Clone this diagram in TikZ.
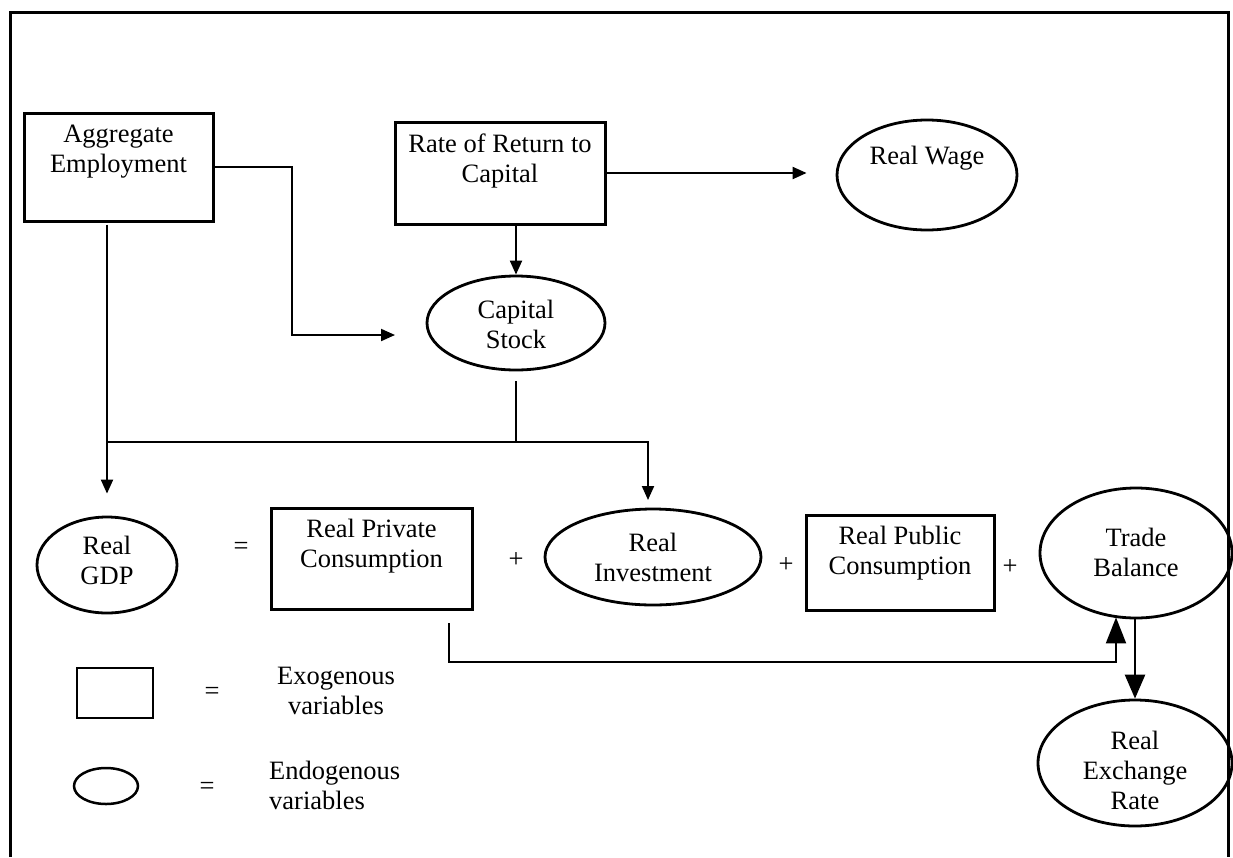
\documentclass[tikz,border=0pt]{standalone}
\usepackage{fontspec}
\setmainfont{Liberation Serif}
\usetikzlibrary{shapes.geometric,arrows.meta,calc}

\begin{document}
\begin{tikzpicture}[x=1pt,y=-1pt,
  font=\fontsize{26.5}{30}\selectfont,
  exo/.style={draw, line width=3pt, rectangle, inner sep=0pt},
  endo/.style={draw, line width=2.8pt, ellipse, inner sep=0pt},
  % labels are placed by their last line
  lbl/.style={align=center, inner sep=0pt, text height=18pt, text depth=6pt},
  op/.style={inner sep=0pt},
  link/.style={line width=2pt},
  arr/.style={link, -{Triangle[length=14pt,width=12pt]}},
  bigarr/.style={line width=2.6pt, -{Triangle[length=24pt,width=20pt]}}
]
\useasboundingbox (0,0) rectangle (1233,857);
\fill[white] (0,0) rectangle (1233,857);

% outer frame (open at the bottom)
\draw[line width=3pt] (10,857) -- (10,12) -- (1228,12) -- (1228,857);

% upper row
\node[exo, minimum width=189pt, minimum height=108pt] (agg) at (118.5,167) {};
\node[lbl] (agg-t) at (118.5,166) {Aggregate\\Employment};
\node[exo, minimum width=210pt, minimum height=102pt] (rate) at (500,173) {};
\node[lbl] (rate-t) at (500,176) {Rate of Return to\\Capital};
\node[endo, minimum width=180pt, minimum height=110pt] (wage) at (927,175) {};
\node[lbl] (wage-t) at (927,158) {Real Wage};
\node[endo, minimum width=178pt, minimum height=94pt] (cap) at (516,323) {};
\node[lbl] (cap-t) at (516,342) {Capital\\Stock};

% GDP identity
\node[endo, minimum width=140pt, minimum height=96pt] (gdp) at (107,565) {};
\node[lbl] (gdp-t) at (107,578) {Real\\GDP};
\node[op] (eq) at (241,548) {=};
\node[exo, minimum width=201pt, minimum height=101pt] (pc) at (371.5,558.5) {};
\node[lbl] (pc-t) at (371.5,561) {Real Private\\Consumption};
\node[op] (p1) at (516,560) {+};
\node[endo, minimum width=216pt, minimum height=96pt] (inv) at (653,557) {};
\node[lbl] (inv-t) at (653,575) {Real\\Investment};
\node[op] (p2) at (786,565) {+};
\node[exo, minimum width=188pt, minimum height=95pt] (pub) at (900,562.5) {};
\node[lbl] (pub-t) at (900,568) {Real Public\\Consumption};
\node[op] (p3) at (1010,567) {+};
\node[endo, minimum width=192pt, minimum height=130pt] (trade) at (1136,553) {};
\node[lbl] (trade-t) at (1136,570) {Trade\\Balance};
\node[endo, minimum width=194pt, minimum height=126pt] (exch) at (1135,763) {};
\node[lbl] (exch-t) at (1135,803) {Real\\Exchange\\Rate};

% legend
\node[exo, line width=2.5pt, minimum width=76pt, minimum height=50pt] (lg-exo) at (115,693) {};
\node[op] (lg-eq1) at (212,693) {=};
\node[lbl] (lg-exo-t) at (336,708) {Exogenous\\variables};
\node[endo, line width=2.5pt, minimum width=64pt, minimum height=36pt] (lg-endo) at (106,786) {};
\node[op] (lg-eq2) at (207,788) {=};
\node[lbl, align=left, anchor=west] (lg-endo-t) at (269,803) {Endogenous\\variables};

% connectors
\coordinate (capin) at (395,335);
\coordinate (invin) at (648,500);
\coordinate (pcout) at (449,623);
\coordinate (tbin) at ($(trade.south)+(-20,-2)$);
\path (gdp.north |- 0,442) coordinate (jn);

\draw[arr, shorten >=29pt] (rate.east) -- (rate.east -| wage.west);
\draw[arr] (cap.north |- rate.south) -- (cap.north);
\draw[arr] (agg.east) -| (292,335) -- (capin);
\draw[arr, shorten <=2pt, shorten >=22pt] (agg.south -| gdp.north) -- (gdp.north);
\draw[link, shorten <=10pt] (cap.south) -- (cap.south |- jn);
\draw[link] (jn) -- (cap.south |- jn);
\draw[arr] (cap.south |- jn) -| (invin);
\draw[line width=2pt, -{Triangle[length=26pt,width=20pt]}] (pcout) |- (tbin |- 0,662) -- (tbin);
\draw[bigarr] (exch.north |- trade.south) -- (exch.north);
\end{tikzpicture}
\end{document}
